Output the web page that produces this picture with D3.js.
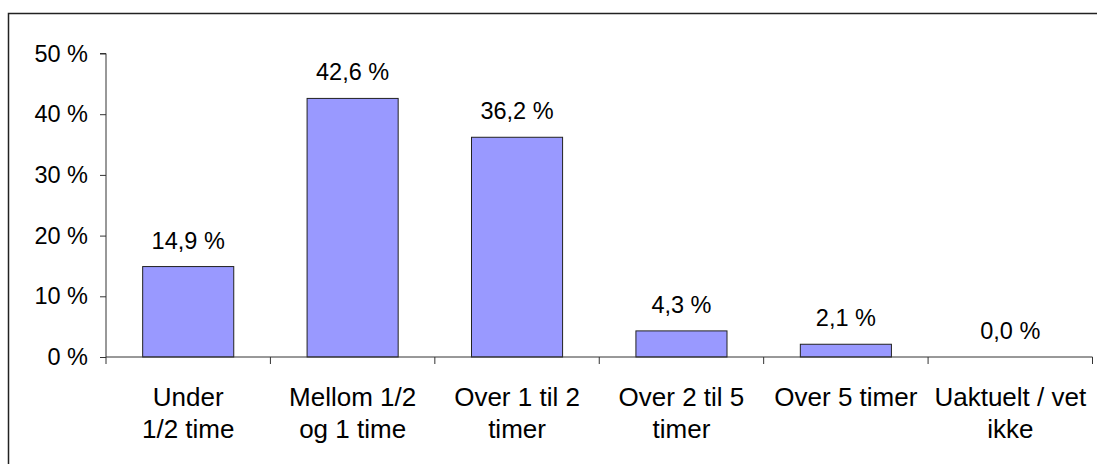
<!DOCTYPE html>
<html>
<head>
<meta charset="utf-8">
<script src="https://cdn.jsdelivr.net/npm/d3@7/dist/d3.min.js"></script>
<style>
  html, body { margin: 0; padding: 0; background: #fff; }
  svg { display: block; font-family: "Liberation Sans", Arial, sans-serif; }
</style>
</head>
<body>
<svg id="chart" width="1097" height="464"></svg>
<script>
// Time spent, share of respondents per category
const categories = ["Under 1/2 time", "Mellom 1/2 og 1 time", "Over 1 til 2 timer", "Over 2 til 5 timer", "Over 5 timer", "Uaktuelt / vet ikke"];
const categoryLines = [["Under", "1/2 time"], ["Mellom 1/2", "og 1 time"], ["Over 1 til 2", "timer"], ["Over 2 til 5", "timer"], ["Over 5 timer"], ["Uaktuelt / vet", "ikke"]];
const values = [14.9, 42.6, 36.2, 4.3, 2.1, 0.0];
const yTicks = [0, 10, 20, 30, 40, 50];

const svg = d3.select("#chart");

// outer chart frame (right/bottom edges fall outside the view)
svg.append("rect")
  .attr("x", 8.5).attr("y", 13.5)
  .attr("width", 1100).attr("height", 460)
  .attr("fill", "none").attr("stroke", "#222").attr("stroke-width", 1.5);

const x = d3.scaleBand().domain(categories).range([106, 1092.5]).paddingInner(0.446).paddingOuter(0.223);
const band = d3.scaleBand().domain(categories).range([106, 1092.5]);
const y = d3.scaleLinear().domain([0, 50]).range([357, 53.5]);

const fmt = v => d3.format(".1f")(v).replace(".", ",") + " %";

// bars
svg.append("g").selectAll("rect").data(values).join("rect")
  .attr("x", (d, i) => x(categories[i]))
  .attr("y", d => y(d))
  .attr("width", x.bandwidth())
  .attr("height", d => y(0) - y(d))
  .attr("fill", "#9999FF")
  .attr("stroke", "#222")
  .attr("stroke-width", 1);

// value labels
svg.append("g").selectAll("text").data(values).join("text")
  .attr("x", (d, i) => x(categories[i]) + x.bandwidth() / 2)
  .attr("y", d => y(d) - 18)
  .attr("text-anchor", "middle")
  .attr("font-size", 23.5)
  .attr("fill", "#000")
  .text(d => fmt(d));

// y axis
const yAxis = d3.axisLeft(y).tickValues(yTicks).tickSize(6).tickPadding(12).tickFormat(d => d + " %");
const gy = svg.append("g").attr("transform", "translate(106,0)").call(yAxis);
gy.select(".domain").attr("stroke", "#333").attr("d", `M-6,${y(50)}H0V${y(0)}`);
gy.selectAll(".tick line").attr("stroke", "#333");
gy.selectAll(".tick text").attr("font-size", 23.5).attr("font-family", "Liberation Sans, Arial, sans-serif").attr("fill", "#000");

// x axis line with ticks at category boundaries
const bounds = categories.map(c => band(c)).concat([band.range()[1]]);
const gx = svg.append("g");
gx.append("line")
  .attr("x1", 106).attr("x2", band.range()[1])
  .attr("y1", y(0)).attr("y2", y(0))
  .attr("stroke", "#333").attr("stroke-width", 1);
gx.selectAll("line.tk").data(bounds).join("line").attr("class", "tk")
  .attr("x1", d => d).attr("x2", d => d)
  .attr("y1", y(0)).attr("y2", y(0) + 7)
  .attr("stroke", "#333");

// category labels
const lbl = svg.append("g").selectAll("text").data(categoryLines).join("text")
  .attr("text-anchor", "middle")
  .attr("font-size", 26)
  .attr("fill", "#000");
lbl.each(function(lines, i) {
  const cx = band(categories[i]) + band.bandwidth() / 2;
  d3.select(this).selectAll("tspan").data(lines).join("tspan")
    .attr("x", cx)
    .attr("y", (d, j) => 406 + j * 31.7)
    .text(d => d);
});
</script>
</body>
</html>
